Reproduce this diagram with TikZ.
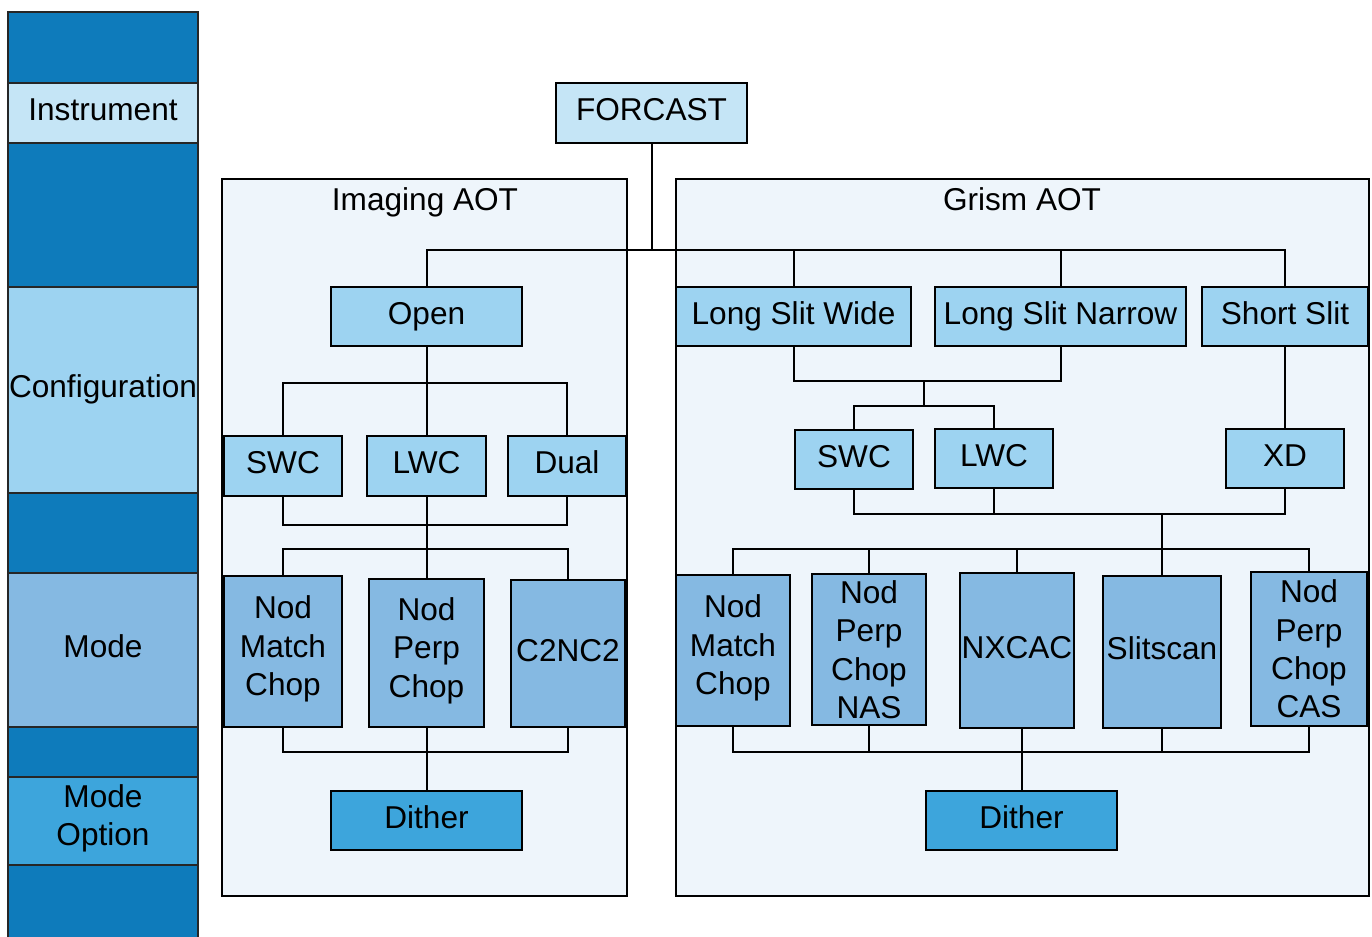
\documentclass[tikz,border=0pt]{standalone}
\usepackage{fontspec}
\setmainfont{Liberation Sans}
\definecolor{dk}{HTML}{0E7BBB}
\definecolor{lvz}{HTML}{C5E5F6}
\definecolor{lva}{HTML}{9DD3F1}
\definecolor{lvb}{HTML}{85B9E2}
\definecolor{lvc}{HTML}{3DA5DC}
\definecolor{cont}{HTML}{EEF5FB}
\newcommand\nodestrut{\strut}
\newcommand\bx[7]{%
 \pgfmathsetmacro\bw{(#4-#2)*0.5}%
 \pgfmathsetmacro\bh{(#5-#3)*0.5}%
 \node[#6, minimum width=\bw pt, minimum height=\bh pt] (#1) at ({(#2+#4)/2},{(#3+#5)/2}) {#7};}
\begin{document}
\begin{tikzpicture}[x=0.5pt,y=-0.5pt,
  every node/.style={font=\fontsize{15.8}{19.2}\selectfont, inner sep=0pt, outer sep=0pt, align=center,
    execute at begin node=\nodestrut},
  boxa/.style={draw=black, line width=1.2pt, rectangle},
  band/.style={draw=black!85, line width=1.2pt, rectangle},
  contbox/.style={draw=black, line width=1pt, fill=cont, rectangle},
  conn/.style={draw=black, line width=1pt}]
\useasboundingbox (0,0) rectangle (1372,937);
% left column
\bx{b1}{8}{12}{198}{83}{band, fill=dk}{}
\bx{b2}{8}{83}{198}{143}{band, fill=lvz}{Instrument}
\bx{b3}{8}{143}{198}{287}{band, fill=dk}{}
\bx{b4}{8}{287}{198}{493}{band, fill=lva}{Configuration}
\bx{b5}{8}{493}{198}{573}{band, fill=dk}{}
\bx{b6}{8}{573}{198}{727}{band, fill=lvb}{Mode}
\bx{b7}{8}{727}{198}{777}{band, fill=dk}{}
\bx{b8}{8}{777}{198}{865}{band, fill=lvc}{Mode\\Option}
\bx{b9}{8}{865}{198}{950}{band, fill=dk}{}
% containers
\bx{imgc}{222}{179}{627}{896}{contbox}{}
\bx{grc}{676}{179}{1369}{896}{contbox}{}
\node (imgt) at (425,203) {Imaging AOT};
\node (grt) at (1022,203) {Grism AOT};
% boxes
\bx{forcast}{556}{83}{747}{143}{boxa, fill=lvz}{FORCAST}
\bx{open}{331}{287}{522}{346}{boxa, fill=lva}{Open}
\bx{lsw}{676}{287}{911}{346}{boxa, fill=lva}{Long Slit Wide}
\bx{lsn}{935}{287}{1186}{346}{boxa, fill=lva}{Long Slit Narrow}
\bx{ss}{1202}{287}{1368}{346}{boxa, fill=lva}{Short Slit}
\bx{iswc}{224}{436}{342}{496}{boxa, fill=lva}{SWC}
\bx{ilwc}{367}{436}{486}{496}{boxa, fill=lva}{LWC}
\bx{idual}{508}{436}{626}{496}{boxa, fill=lva}{Dual}
\bx{gswc}{795}{430}{913}{489}{boxa, fill=lva}{SWC}
\bx{glwc}{935}{429}{1053}{488}{boxa, fill=lva}{LWC}
\bx{xd}{1226}{429}{1344}{488}{boxa, fill=lva}{XD}
\bx{inmc}{224}{576}{342}{727}{boxa, fill=lvb}{Nod\\Match\\Chop}
\bx{inpc}{369}{579}{484}{727}{boxa, fill=lvb}{Nod\\Perp\\Chop}
\bx{ic2}{511}{580}{625}{727}{boxa, fill=lvb}{C2NC2}
\bx{gnmc}{676}{575}{790}{726}{boxa, fill=lvb}{Nod\\Match\\Chop}
\begingroup
\renewcommand\nodestrut{}
\bx{gnas}{812}{574}{926}{725}{boxa, fill=lvb}{Nod\\Perp\\Chop\\NAS}
\bx{gcas}{1251}{572}{1367}{726}{boxa, fill=lvb}{Nod\\Perp\\Chop\\CAS}
\endgroup
\bx{gnx}{960}{573}{1074}{728}{boxa, fill=lvb}{NXCAC}
\bx{gsl}{1103}{576}{1221}{728}{boxa, fill=lvb}{Slitscan}
\bx{idith}{331}{791}{522}{850}{boxa, fill=lvc}{Dither}
\bx{gdith}{926}{791}{1117}{850}{boxa, fill=lvc}{Dither}
% junction levels
\coordinate (h0) at (0,250);
\coordinate (h1) at (0,383);
\coordinate (h2) at (0,525);
\coordinate (h3) at (0,549);
\coordinate (h4) at (0,752);
\coordinate (h5) at (0,381);
\coordinate (h6) at (0,406);
\coordinate (h7) at (0,514);
\coordinate (g1) at (924,381);
% top
\draw[conn] (forcast.south) -- (forcast.south |- h0);
\draw[conn] (open.north) -- (open.north |- h0) -- (ss.north |- h0) -- (ss.north);
\draw[conn] (lsw.north) -- (lsw.north |- h0);
\draw[conn] (lsn.north) -- (lsn.north |- h0);
% imaging
\draw[conn] (open.south) -- (open.south |- h1);
\draw[conn] (iswc.north) -- (iswc.north |- h1) -- (idual.north |- h1) -- (idual.north);
\draw[conn] (ilwc.north) -- (ilwc.north |- h1);
\draw[conn] (iswc.south) -- (iswc.south |- h2) -- (idual.south |- h2) -- (idual.south);
\draw[conn] (ilwc.south) -- (ilwc.south |- h3);
\draw[conn] (inmc.north) -- (inmc.north |- h3) -- (ic2.north |- h3) -- (ic2.north);
\draw[conn] (inpc.north) -- (inpc.north |- h3);
\draw[conn] (inmc.south) -- (inmc.south |- h4) -- (ic2.south |- h4) -- (ic2.south);
\draw[conn] (inpc.south) -- (idith.north);
% grism
\draw[conn] (lsw.south) -- (lsw.south |- h5) -- (lsn.south |- h5) -- (lsn.south);
\draw[conn] (g1) -- (g1 |- h6);
\draw[conn] (gswc.north) -- (gswc.north |- h6) -- (glwc.north |- h6) -- (glwc.north);
\draw[conn] (ss.south) -- (xd.north);
\draw[conn] (gswc.south) -- (gswc.south |- h7) -- (xd.south |- h7) -- (xd.south);
\draw[conn] (glwc.south) -- (glwc.south |- h7);
\draw[conn] (gsl.north) -- (gsl.north |- h7);
\draw[conn] (gnmc.north) -- (gnmc.north |- h3) -- (gcas.north |- h3) -- (gcas.north);
\draw[conn] (gnas.north) -- (gnas.north |- h3);
\draw[conn] (gnx.north) -- (gnx.north |- h3);
\draw[conn] (gnmc.south) -- (gnmc.south |- h4) -- (gcas.south |- h4) -- (gcas.south);
\draw[conn] (gnas.south) -- (gnas.south |- h4);
\draw[conn] (gsl.south) -- (gsl.south |- h4);
\draw[conn] (gdith.north) -- (gdith.north |- gnx.south);
\end{tikzpicture}
\end{document}
